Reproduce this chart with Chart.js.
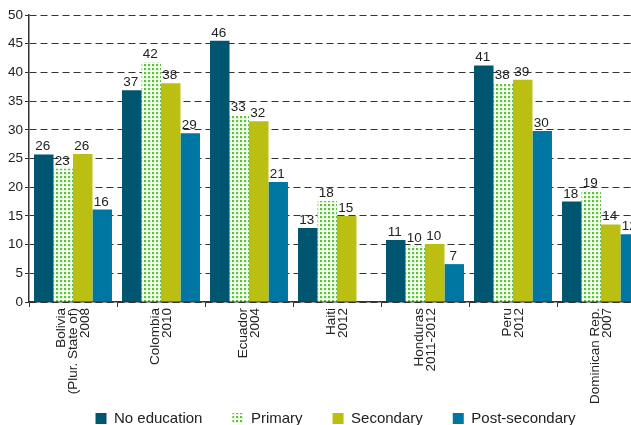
<!DOCTYPE html>
<html>
<head>
<meta charset="utf-8">
<script src="https://cdn.jsdelivr.net/npm/chart.js@4"></script>
<style>
html, body { margin: 0; padding: 0; background: #fff; overflow: hidden; }
#wrap { width: 631px; height: 425px; overflow: hidden; }
</style>
</head>
<body>
<div id="wrap"><canvas id="chart" width="660" height="425"></canvas></div>
<script>
// data
const categories = [
    ["Bolivia", "(Plur. State of)", "2008"],
    ["Colombia", "2010"],
    ["Ecuador", "2004"],
    ["Haiti", "2012"],
    ["Honduras", "2011-2012"],
    ["Peru", "2012"],
    ["Dominican Rep.", "2007"]
];
const seriesNames = ["No education", "Primary", "Secondary", "Post-secondary"];
const noEducation = [25.7, 36.9, 45.5, 12.9, 10.8, 41.2, 17.5];
const primary = [23.2, 41.8, 32.6, 17.6, 9.8, 38.1, 19.4];
const secondary = [25.8, 38.1, 31.5, 15.0, 10.1, 38.7, 13.5];
const postSecondary = [16.1, 29.4, 20.9, null, 6.6, 29.8, 11.8];
const yTicks = [0, 5, 10, 15, 20, 25, 30, 35, 40, 45, 50];

const FONT = '"Liberation Sans", Arial, sans-serif';
const X_FONT_SIZE = 13.5;
const X_LINE = 0.9;

// dotted fill for the "Primary" bars
function dotPattern() {
    const tile = document.createElement("canvas");
    tile.width = 4;
    tile.height = 4;
    const t = tile.getContext("2d");
    t.fillStyle = "#ffffff";
    t.fillRect(0, 0, 4, 4);
    t.fillStyle = "#e0f2d8";
    t.fillRect(0, 0, 3, 3);
    t.fillStyle = "#62be44";
    t.fillRect(0, 0, 2, 2);
    return t.createPattern(tile, "repeat");
}

// value labels above each bar
const barLabels = {
    id: "barLabels",
    afterDatasetsDraw(chart) {
        const ctx = chart.ctx;
        ctx.save();
        ctx.font = "13.5px " + FONT;
        ctx.fillStyle = "#222";
        ctx.textAlign = "center";
        ctx.textBaseline = "bottom";
        chart.data.datasets.forEach((ds, i) => {
            chart.getDatasetMeta(i).data.forEach((bar, j) => {
                const v = ds.data[j];
                if (v === null || v === undefined) return;
                ctx.fillText(Math.round(v), bar.x - 1, bar.y - 1);
            });
        });
        ctx.restore();
    }
};

// nudge the legend to where it sits in the original, and let the
// long rotated category labels run below the axis box
const layoutFix = {
    id: "layoutFix",
    afterLayout(chart) {
        const lg = chart.legend;
        lg.left += 13; lg.right += 13;
        lg.top += 11; lg.bottom += 11;
        chart.scales.x.bottom = chart.height;
    },
    // center the stacked lines of each rotated label on its tick
    beforeDraw(chart) {
        const items = chart.scales.x.getLabelItems(chart.chartArea);
        if (items._centered) return;
        items._centered = true;
        const lh = X_FONT_SIZE * X_LINE;
        items.forEach(it => {
            const n = Array.isArray(it.label) ? it.label.length : 1;
            it.options.translation[0] -= (n - 1) * lh / 2;
        });
    }
};

const ctx = document.getElementById("chart").getContext("2d");
const colors = ["#005571", dotPattern(), "#bbbf12", "#0077a2"];
const series = [noEducation, primary, secondary, postSecondary];

new Chart(ctx, {
    type: "bar",
    data: {
        labels: categories,
        datasets: series.map((d, i) => ({
            label: seriesNames[i],
            data: d,
            backgroundColor: colors[i],
            borderWidth: 0,
            barPercentage: 1,
            categoryPercentage: 0.886
        }))
    },
    options: {
        responsive: false,
        animation: false,
        layout: { padding: { top: 15, right: 15, left: 0, bottom: 0 } },
        plugins: {
            tooltip: { enabled: false },
            legend: {
                position: "bottom",
                labels: {
                    boxWidth: 11,
                    boxHeight: 11,
                    padding: 30,
                    color: "#222",
                    font: { family: FONT, size: 15 }
                }
            }
        },
        scales: {
            x: {
                offset: true,
                afterFit(scale) { scale.height = 68; },
                grid: {
                    offset: true,
                    drawOnChartArea: false,
                    drawTicks: true,
                    tickLength: 5,
                    tickColor: "#333"
                },
                border: { color: "#333", width: 1.5 },
                ticks: {
                    autoSkip: false,
                    minRotation: 90,
                    maxRotation: 90,
                    padding: 1,
                    color: "#222",
                    font: { family: FONT, size: X_FONT_SIZE, lineHeight: X_LINE }
                }
            },
            y: {
                min: 0,
                max: 50,
                afterFit(scale) { scale.width = 29; },
                afterBuildTicks(scale) { scale.ticks = yTicks.map(v => ({ value: v })); },
                grid: {
                    color: "#333",
                    lineWidth: 1,
                    tickLength: 4,
                    tickColor: "#333",
                    tickBorderDash: []
                },
                border: { color: "#333", width: 1.5, dash: [7, 4] },
                ticks: {
                    padding: 2,
                    color: "#222",
                    font: { family: FONT, size: 13.5 }
                }
            }
        }
    },
    plugins: [barLabels, layoutFix]
});
</script>
</body>
</html>
